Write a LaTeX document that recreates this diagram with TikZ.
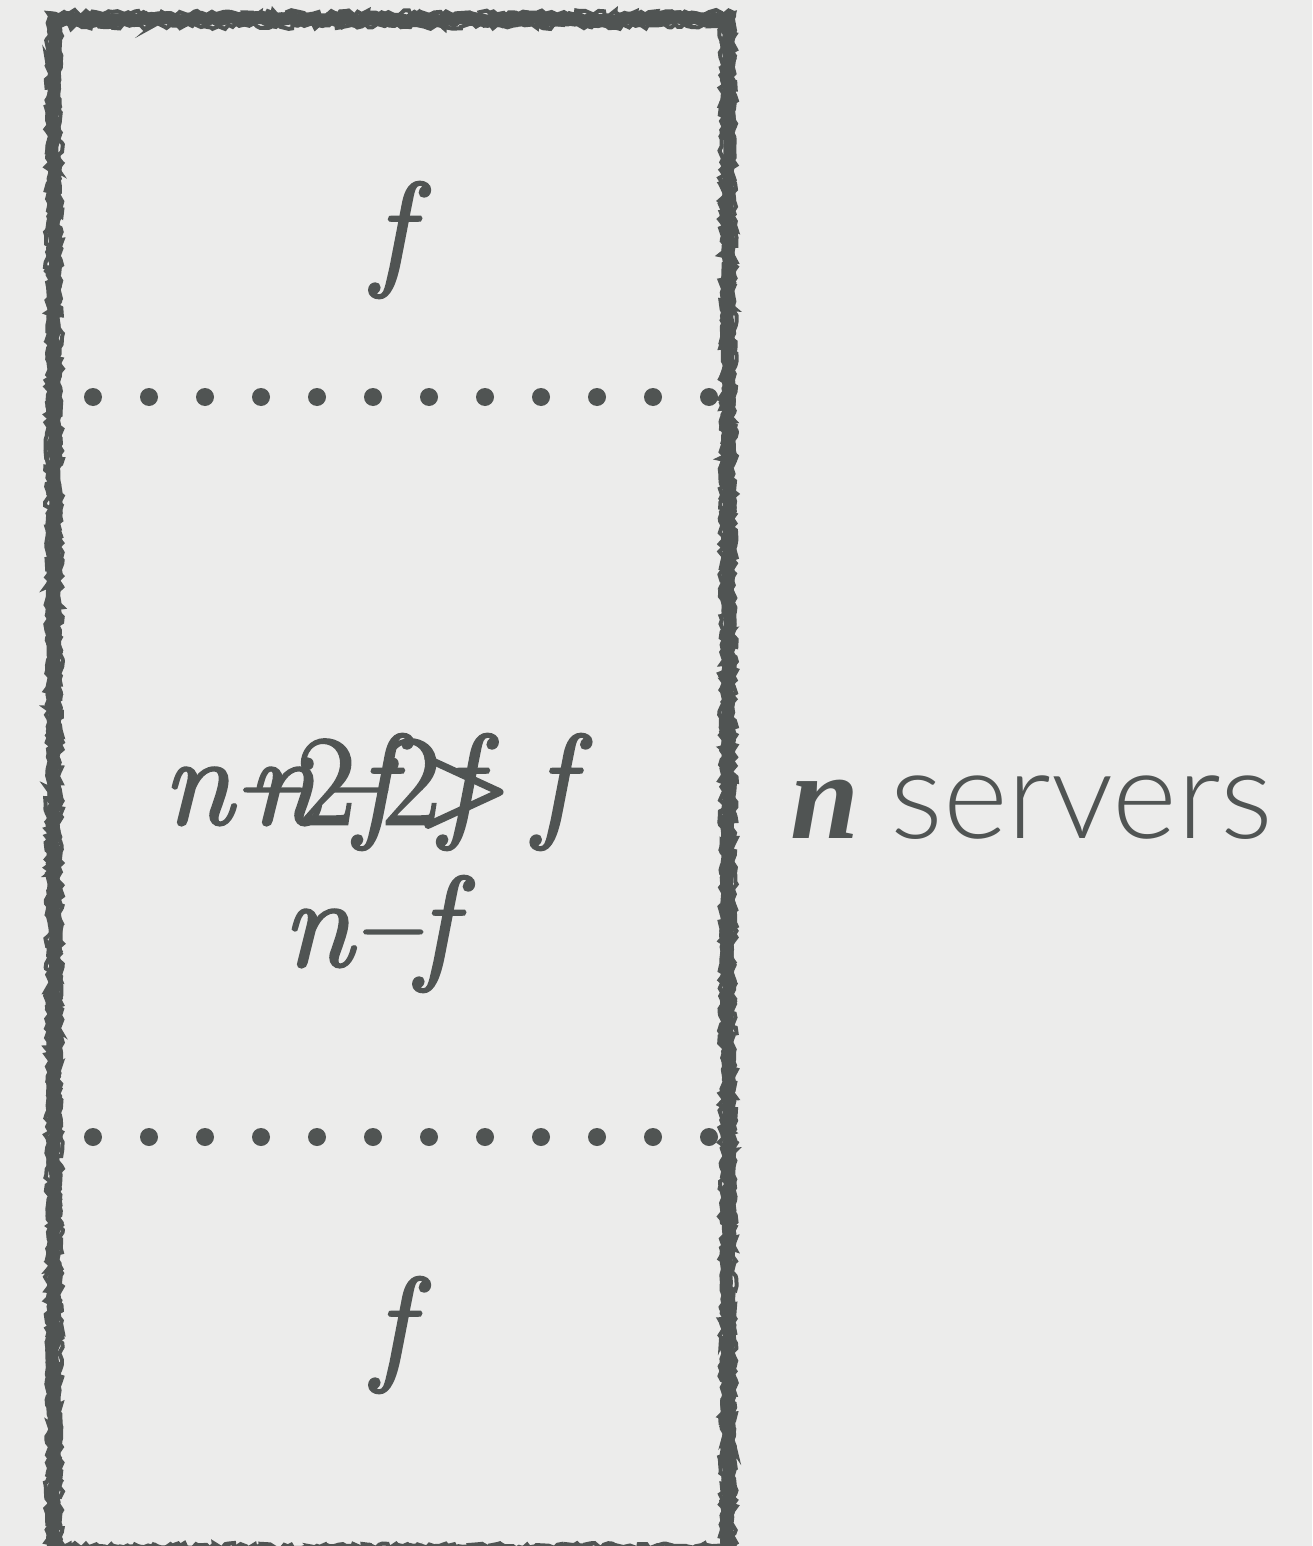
\documentclass[tikz,border=0pt]{standalone}
\usepackage{fontspec}
\setmainfont{Liberation Serif}
\newfontfamily\lmr{Latin Modern Roman}
\newfontfamily\lightsans{Lato Light}
\usetikzlibrary{decorations.pathmorphing}
\definecolor{ink}{RGB}{80,84,83}
\definecolor{paper}{RGB}{236,236,235}
\newcommand{\heavy}[1]{\special{pdf:code 2 Tr 1.3 w}#1\special{pdf:code 0 Tr}}
\tikzset{
  mtext/.style={inner sep=0pt, text=ink, font=\fontsize{64}{70}\selectfont\lmr\itshape},
  rough/.style={draw=ink, line width=6.5pt, decorate, decoration={random steps, segment length=3pt, amplitude=1.2pt}},
  rougher/.style={draw=ink, line width=2pt, decorate, decoration={random steps, segment length=2pt, amplitude=1.5pt}},
  dotmark/.style={fill=ink, circle, inner sep=0pt, minimum size=9pt}
}
\begin{document}
\begin{tikzpicture}[x=0.5pt, y=-0.5pt]
\useasboundingbox (0,0) rectangle (1312,1546);
\fill[paper] (0,0) rectangle (1312,1546);
% box
\draw[rough] (54,19) rectangle (728,1552);
\draw[rougher] (48,13) rectangle (734,1556);
\draw[rougher] (60,26) rectangle (722,1546);
% dotted separators
\foreach \i in {0,...,11} {
  \node[dotmark] (da\i) at (93+56*\i,397) {};
  \node[dotmark] (db\i) at (93+56*\i,1137) {};
}
% labels
\node[mtext, anchor=base] (ftop) at (392,272) {\heavy{f}};
\node[mtext, anchor=base] (fbot) at (392,1367) {\heavy{f}};
\node[mtext, anchor=base west] (ta) at (162,824) {\heavy{n–{\upshape 2}f\,{\upshape >}\,f}};
\node[mtext, anchor=base west] (tb) at (247,824) {\heavy{n–{\upshape 2}f}};
\node[mtext, anchor=base west] (tc) at (282,966) {\heavy{n–f}};
\node[inner sep=0pt, anchor=base west, text=ink, font=\fontsize{62}{70}\selectfont] (srv) at (790,838) {\bfseries\itshape n \lightsans\mdseries\upshape servers};
\end{tikzpicture}
\end{document}
